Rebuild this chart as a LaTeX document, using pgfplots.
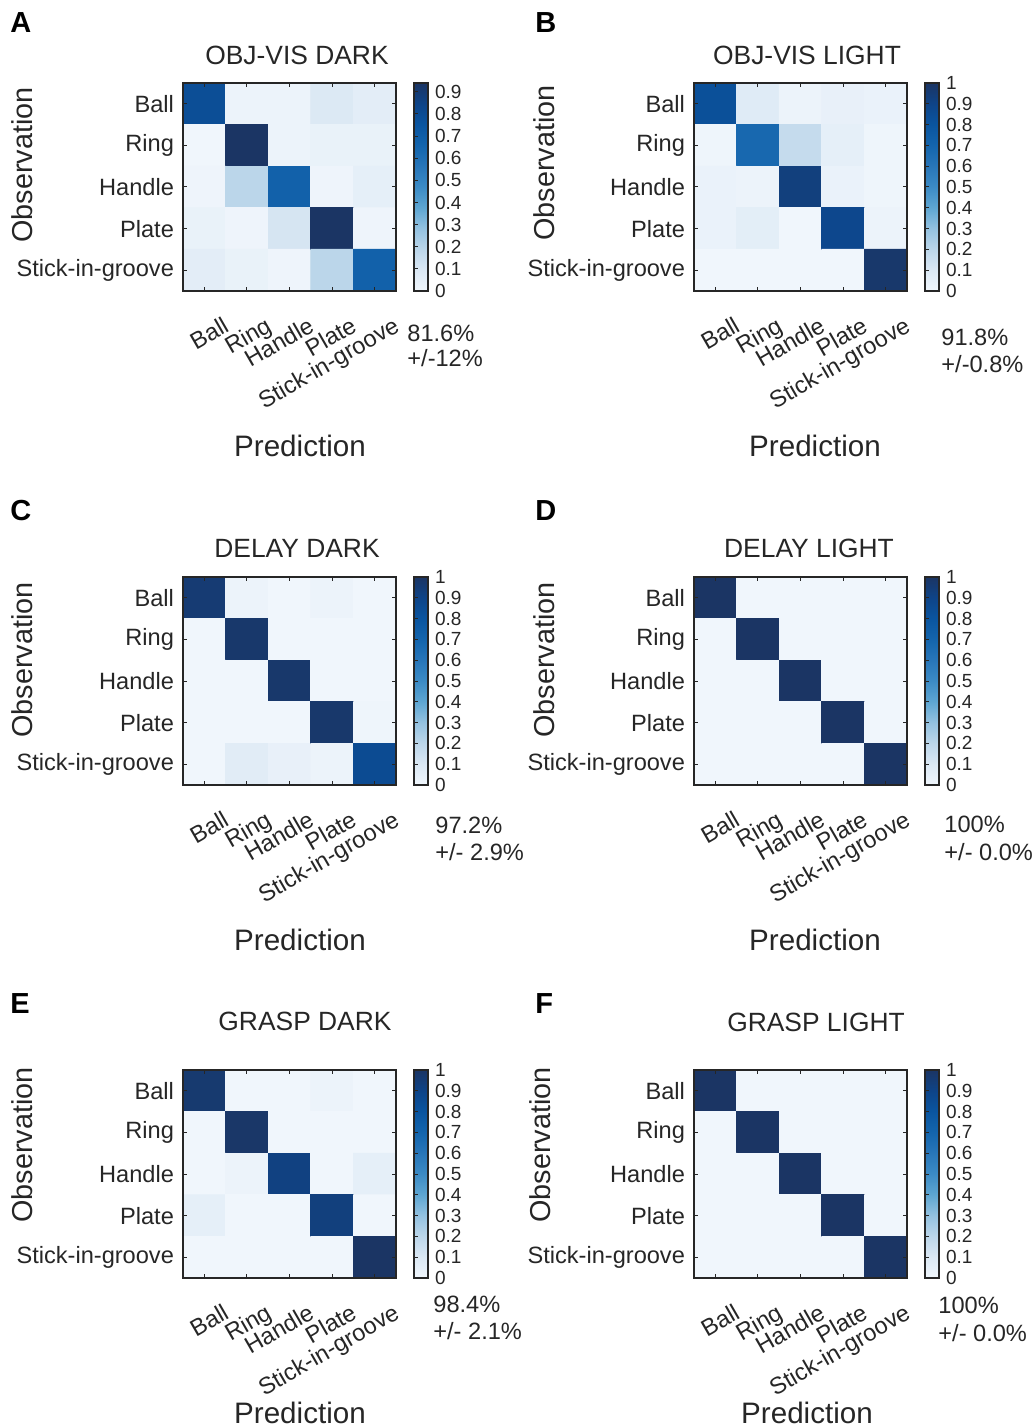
\documentclass[border=0pt]{standalone}
\usepackage{fontspec}
\setmainfont{Liberation Sans}
\usepackage{pgfplots}
\pgfplotsset{compat=1.18}
\pgfplotsset{
  colormap={mb}{rgb255=(240,246,252) rgb255=(219,232,244) rgb255=(188,214,234) rgb255=(148,194,224) rgb255=(94,166,210) rgb255=(60,139,197) rgb255=(40,118,185) rgb255=(20,101,173) rgb255=(10,85,160) rgb255=(14,68,136) rgb255=(27,53,100)},
  cm/.style={
    width=106.5pt, height=104pt, scale only axis, anchor=north west,
    axis on top,
    xmin=-0.5, xmax=4.5, ymin=-0.5, ymax=4.5, y dir=reverse,
    xtick={0,...,4}, ytick={0,...,4},
    xticklabels={Ball,Ring,Handle,Plate,Stick-in-groove},
    yticklabels={Ball,Ring,Handle,Plate,Stick-in-groove},
    tick align=inside, major tick length=1.8pt,
    tick style={line width=0.5pt, color=black!85},
    axis line style={line width=1.2pt, color=black!85},
    ticklabel style={font=\fontsize{11.8}{12}\selectfont, text=black!85},
    xticklabel style={xshift=10pt, yshift=-7.5pt, rotate=30, anchor=north east},
    yticklabel style={xshift=-1pt},
    colormap name=mb, point meta min=0,
    /pgf/number format/assume math mode=true,
    colorbar,
    colorbar style={
      at={(parent axis.north east)}, anchor=north west, xshift=0.5pt,
      width=7pt, axis on top,
      yticklabel pos=right, ytick pos=left,
      tick align=inside, major tick length=2pt,
      tick style={line width=0.5pt, color=black!85},
      axis line style={line width=1.2pt, color=black!85},
      yticklabel style={font=\fontsize{9.5}{10}\selectfont, text=black!85},
      /pgf/number format/assume math mode=true,
    },
  },
}
\newcommand{\ttl}[3]{\node[anchor=base, font=\fontsize{13.2}{14}\selectfont, text=black!85] at (#1,#2) {#3};}
\newcommand{\obs}[2]{\node[rotate=90, font=\fontsize{14.4}{15}\selectfont, text=black!85] at (#1,#2) {Observation};}
\newcommand{\pred}[2]{\node[anchor=base, font=\fontsize{14.8}{15}\selectfont, text=black!85] at (#1,#2) {Prediction};}
\newcommand{\acc}[5]{\node[anchor=base west, font=\fontsize{11.8}{12}\selectfont, text=black!85, inner sep=0pt] at (#1,#2) {#4};
  \node[anchor=base west, font=\fontsize{11.8}{12}\selectfont, text=black!85, inner sep=0pt] at (#1,#3) {#5};}
\newcommand{\letter}[3]{\node[anchor=base west, font=\fontsize{14.5}{15}\selectfont\bfseries, inner sep=0pt] at (#1,#2) {#3};}
\begin{document}
\begin{tikzpicture}
\useasboundingbox (0,0) rectangle (517pt,-714pt);
% A
\begin{axis}[cm, at={(91.5pt,-41.5pt)}, point meta max=0.94,
  colorbar style={ytick={0,0.1,0.2,0.3,0.4,0.5,0.6,0.7,0.8,0.9}}]
\addplot[matrix plot*, mesh/cols=5, point meta=explicit] table[meta=c] {
x y c
0 0 0.79
1 0 0.02
2 0 0.02
3 0 0.09
4 0 0.06
0 1 0.00
1 1 0.94
2 1 0.02
3 1 0.03
4 1 0.03
0 2 0.01
1 2 0.19
2 2 0.68
3 2 0.01
4 2 0.05
0 3 0.03
1 3 0.01
2 3 0.11
3 3 0.94
4 3 0.01
0 4 0.06
1 4 0.03
2 4 0.01
3 4 0.19
4 4 0.68
};
\end{axis}
% B
\begin{axis}[cm, at={(347pt,-41.5pt)}, point meta max=1,
  colorbar style={ytick={0,0.1,0.2,0.3,0.4,0.5,0.6,0.7,0.8,0.9,1}}]
\addplot[matrix plot*, mesh/cols=5, point meta=explicit] table[meta=c] {
x y c
0 0 0.83
1 0 0.08
2 0 0.02
3 0 0.04
4 0 0.03
0 1 0.01
1 1 0.68
2 1 0.17
3 1 0.05
4 1 0.01
0 2 0.03
1 2 0.02
2 2 0.93
3 2 0.03
4 2 0.01
0 3 0.03
1 3 0.06
2 3 0.00
3 3 0.88
4 3 0.02
0 4 0.00
1 4 0.00
2 4 0.00
3 4 0.00
4 4 0.98
};
\end{axis}
% C
\begin{axis}[cm, at={(91.5pt,-288.5pt)}, point meta max=1,
  colorbar style={ytick={0,0.1,0.2,0.3,0.4,0.5,0.6,0.7,0.8,0.9,1}}]
\addplot[matrix plot*, mesh/cols=5, point meta=explicit] table[meta=c] {
x y c
0 0 0.96
1 0 0.02
2 0 0.00
3 0 0.02
4 0 0.00
0 1 0.00
1 1 0.98
2 1 0.00
3 1 0.00
4 1 0.00
0 2 0.00
1 2 0.00
2 2 0.98
3 2 0.00
4 2 0.00
0 3 0.00
1 3 0.00
2 3 0.00
3 3 0.98
4 3 0.01
0 4 0.00
1 4 0.07
2 4 0.04
3 4 0.02
4 4 0.86
};
\end{axis}
% D
\begin{axis}[cm, at={(347pt,-288.5pt)}, point meta max=1,
  colorbar style={ytick={0,0.1,0.2,0.3,0.4,0.5,0.6,0.7,0.8,0.9,1}}]
\addplot[matrix plot*, mesh/cols=5, point meta=explicit] table[meta=c] {
x y c
0 0 1
1 0 0
2 0 0
3 0 0
4 0 0
0 1 0
1 1 1
2 1 0
3 1 0
4 1 0
0 2 0
1 2 0
2 2 1
3 2 0
4 2 0
0 3 0
1 3 0
2 3 0
3 3 1
4 3 0
0 4 0
1 4 0
2 4 0
3 4 0
4 4 1
};
\end{axis}
% E
\begin{axis}[cm, at={(91.5pt,-535pt)}, point meta max=1,
  colorbar style={ytick={0,0.1,0.2,0.3,0.4,0.5,0.6,0.7,0.8,0.9,1}}]
\addplot[matrix plot*, mesh/cols=5, point meta=explicit] table[meta=c] {
x y c
0 0 0.97
1 0 0.00
2 0 0.00
3 0 0.02
4 0 0.00
0 1 0.00
1 1 0.99
2 1 0.00
3 1 0.00
4 1 0.00
0 2 0.00
1 2 0.02
2 2 0.92
3 2 0.00
4 2 0.05
0 3 0.05
1 3 0.00
2 3 0.00
3 3 0.93
4 3 0.00
0 4 0.00
1 4 0.00
2 4 0.00
3 4 0.00
4 4 1.00
};
\end{axis}
% F
\begin{axis}[cm, at={(347pt,-535pt)}, point meta max=1,
  colorbar style={ytick={0,0.1,0.2,0.3,0.4,0.5,0.6,0.7,0.8,0.9,1}}]
\addplot[matrix plot*, mesh/cols=5, point meta=explicit] table[meta=c] {
x y c
0 0 1
1 0 0
2 0 0
3 0 0
4 0 0
0 1 0
1 1 1
2 1 0
3 1 0
4 1 0
0 2 0
1 2 0
2 2 1
3 2 0
4 2 0
0 3 0
1 3 0
2 3 0
3 3 1
4 3 0
0 4 0
1 4 0
2 4 0
3 4 0
4 4 1
};
\end{axis}
% letters
\letter{5pt}{-16.5pt}{A}
\letter{267.5pt}{-16.5pt}{B}
\letter{5pt}{-260pt}{C}
\letter{267.5pt}{-260pt}{D}
\letter{5pt}{-506.5pt}{E}
\letter{267.5pt}{-506.5pt}{F}
% titles
\ttl{148.5pt}{-32.25pt}{OBJ-VIS DARK}
\ttl{403.5pt}{-32.25pt}{OBJ-VIS LIGHT}
\ttl{148.5pt}{-278.75pt}{DELAY DARK}
\ttl{404.5pt}{-278.75pt}{DELAY LIGHT}
\ttl{152.5pt}{-515.25pt}{GRASP DARK}
\ttl{408pt}{-515.75pt}{GRASP LIGHT}
% y labels
\obs{11pt}{-82.5pt}
\obs{272pt}{-81.5pt}
\obs{11pt}{-330pt}
\obs{272pt}{-330pt}
\obs{11pt}{-572.5pt}
\obs{270pt}{-572.5pt}
% x labels
\pred{150pt}{-228pt}
\pred{407.5pt}{-228pt}
\pred{150pt}{-475pt}
\pred{407.5pt}{-475pt}
\pred{150pt}{-711.5pt}
\pred{403.5pt}{-711.5pt}
% accuracies
\acc{203.5pt}{-171pt}{-183pt}{81.6\%}{+/-12\%}
\acc{470.5pt}{-172.5pt}{-186pt}{91.8\%}{+/-0.8\%}
\acc{217.5pt}{-416.5pt}{-430pt}{97.2\%}{+/- 2.9\%}
\acc{472pt}{-416pt}{-430pt}{100\%}{+/- 0.0\%}
\acc{216.5pt}{-656pt}{-669.5pt}{98.4\%}{+/- 2.1\%}
\acc{469pt}{-656.5pt}{-670.5pt}{100\%}{+/- 0.0\%}
\end{tikzpicture}
\end{document}
